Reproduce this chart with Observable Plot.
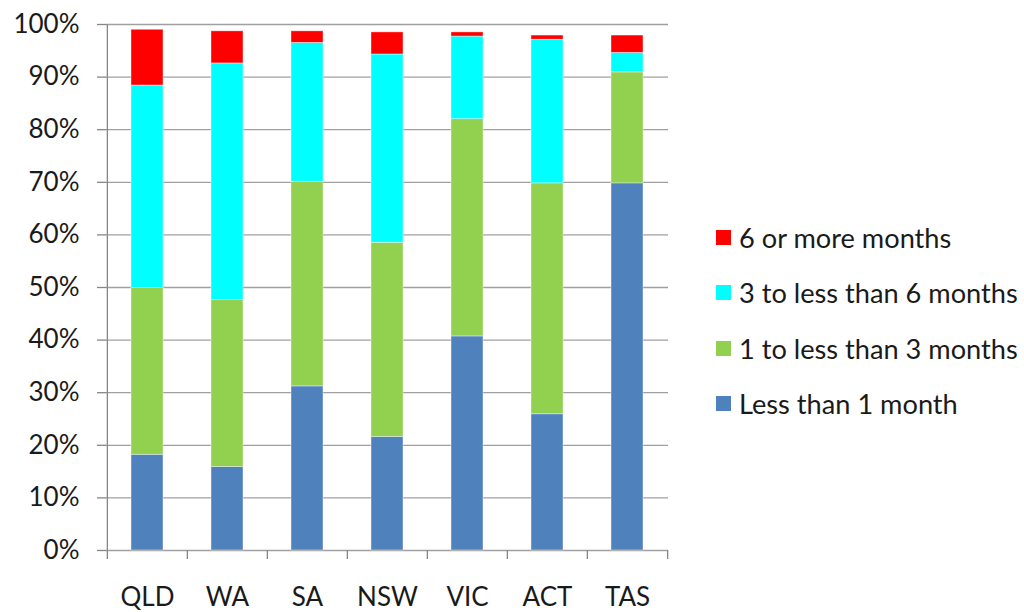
<!DOCTYPE html>
<html>
<head>
<meta charset="utf-8">
<script src="https://cdn.jsdelivr.net/npm/d3@7"></script>
<script src="https://cdn.jsdelivr.net/npm/@observablehq/plot@0.6"></script>
<style>
  html, body { margin: 0; padding: 0; background: #fff; }
  #wrap { position: relative; width: 1024px; height: 612px; font-family: Lato, "Open Sans", sans-serif; color: #1a1a1a; }
  #chart { position: absolute; left: 0; top: 0; }
  #legend { position: absolute; left: 716px; top: 221px; font-size: 27.2px; }
  .item { display: flex; align-items: center; height: 32px; margin-bottom: 23.5px; white-space: nowrap; }
  .sw { width: 15px; height: 15px; margin-right: 8px; flex: none; }
</style>
</head>
<body>
<div id="wrap">
  <div id="chart"></div>
  <div id="legend"></div>
</div>
<script>
const states = ["QLD", "WA", "SA", "NSW", "VIC", "ACT", "TAS"];
const series = ["Less than 1 month", "1 to less than 3 months", "3 to less than 6 months", "6 or more months"];
const lessThan1 = [18.2, 15.9, 31.2, 21.6, 40.7, 25.9, 69.8];
const oneTo3 = [31.7, 31.7, 38.9, 36.9, 41.3, 43.9, 21.1];
const threeTo6 = [38.5, 45.0, 26.4, 35.8, 15.7, 27.3, 3.7];
const sixPlus = [10.6, 6.1, 2.2, 4.2, 0.8, 0.8, 3.3];
const colors = ["#4F81BD", "#92D050", "#00FFFF", "#FF0000"];
const yTicks = [0, 10, 20, 30, 40, 50, 60, 70, 80, 90, 100];

const values = [lessThan1, oneTo3, threeTo6, sixPlus];
const data = [];
series.forEach((s, si) => states.forEach((st, i) => data.push({state: st, series: s, value: values[si][i]})));

const W = 700, H = 612, mL = 106, mR = 32, mT = 24, mB = 62;
const step = (W - mL - mR) / states.length;
const axisColor = "#868686";

const chart = Plot.plot({
  width: W,
  height: H,
  marginLeft: mL,
  marginRight: mR,
  marginTop: mT,
  marginBottom: mB,
  style: {fontFamily: "Lato, 'Open Sans', sans-serif", fontSize: "26px", color: "#1a1a1a", background: "#fff"},
  x: {domain: states, paddingInner: 0.6, paddingOuter: 0.3, label: null},
  y: {domain: [0, 100], label: null},
  color: {domain: series, range: colors},
  marks: [
    Plot.ruleY(yTicks, {y: d => d, stroke: "#a0a0a0", strokeWidth: 1.3}),
    Plot.barY(data, {x: "state", y: "value", fill: "series", stroke: "#ffffff", strokeOpacity: 0.5, strokeWidth: 0.8}),
    Plot.ruleX(states.slice(0, 1), {x: d => d, dx: -step / 2, y1: 100, y2: 0, insetBottom: -9, stroke: axisColor, strokeWidth: 1.3}),
    Plot.ruleX(states.slice(1), {x: d => d, dx: -step / 2, y1: 0, y2: 0, insetBottom: -9, stroke: axisColor, strokeWidth: 1.3}),
    Plot.ruleX(states.slice(-1), {x: d => d, dx: step / 2, y1: 0, y2: 0, insetBottom: -9, stroke: axisColor, strokeWidth: 1.3}),
    Plot.axisY(yTicks, {tickSize: 9, tickPadding: 18, stroke: axisColor, strokeWidth: 1.3, tickFormat: d => d + "%", label: null, fill: "#1a1a1a"}),
    Plot.axisX({tickSize: 0, tickPadding: 37, label: null, fill: "#1a1a1a"})
  ]
});
document.getElementById("chart").appendChild(chart);

const legend = document.getElementById("legend");
series.slice().reverse().forEach(s => {
  const row = document.createElement("div");
  row.className = "item";
  const sw = document.createElement("span");
  sw.className = "sw";
  sw.style.background = colors[series.indexOf(s)];
  const t = document.createElement("span");
  t.textContent = s;
  row.appendChild(sw);
  row.appendChild(t);
  legend.appendChild(row);
});
</script>
</body>
</html>
